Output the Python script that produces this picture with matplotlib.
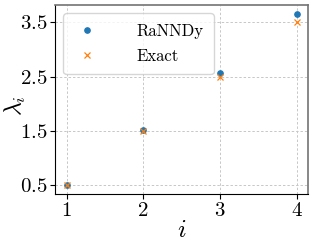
import matplotlib
matplotlib.use("Agg")
import matplotlib.pyplot as plt

plt.rcParams.update({
    "font.family": "serif",
    "font.serif": ["cmr10"],
    "mathtext.fontset": "cm",
    "axes.formatter.use_mathtext": True,
    "font.size": 15,
})

idx = [1, 2, 3, 4]
rannndy = [0.50, 1.52, 2.57, 3.66]
exact = [0.5, 1.5, 2.5, 3.5]
yticks = [0.5, 1.5, 2.5, 3.5]

fig = plt.figure(figsize=(3.14, 2.44), dpi=100)
ax = fig.add_axes([55 / 314, 50 / 244, 253 / 314, 189 / 244])

ax.plot(idx, rannndy, "o", color="tab:blue", markersize=3.8, label="RaNNDy", zorder=3)
ax.plot(idx, exact, "x", color="tab:orange", markersize=3.8, markeredgewidth=0.9,
        label="Exact", zorder=4)

ax.set_xticks(idx)
ax.set_yticks(yticks)
ax.set_xticklabels([f"${v}$" for v in idx])
ax.set_yticklabels([f"${v}$" for v in yticks])
ax.tick_params(labelsize=15, pad=2)
ax.grid(True, linestyle=(0, (2.5, 2)), color="0.78", linewidth=0.7)
ax.set_axisbelow(True)

ax.set_xlabel("$i$", fontsize=18, labelpad=0)
ax.set_ylabel(r"$\lambda_i$", fontsize=17)
ax.yaxis.set_label_coords(-0.108, 0.47)

for s in ("top", "right"):
    ax.spines[s].set_color("0.45")
    ax.spines[s].set_linewidth(1.2)

ax.legend(loc="upper left", fontsize=12, borderaxespad=0.5, handletextpad=2.2,
          borderpad=0.6, labelspacing=0.6, handlelength=1.6)

fig.savefig("out.png", dpi=100)
